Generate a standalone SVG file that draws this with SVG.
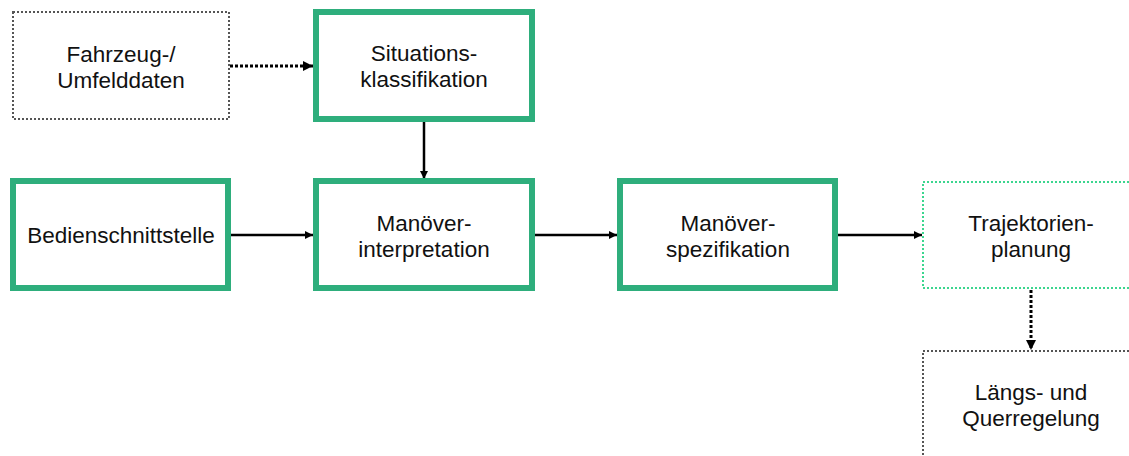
<svg xmlns="http://www.w3.org/2000/svg" width="1129" height="456" viewBox="0 0 1129 456">
  <style>
    .main { fill: #ffffff; stroke: #2eae7c; stroke-width: 6; }
    .ext { fill: #ffffff; stroke: #555555; stroke-width: 2; stroke-dasharray: 2 2; }
    .ext-green { fill: #ffffff; stroke: #3bd68f; stroke-width: 2; stroke-dasharray: 2 2; }
    .label { font-family: "Liberation Sans", Arial, sans-serif; font-size: 22.5px; fill: #111111; text-anchor: middle; }
    .flow { fill: none; stroke: #000000; stroke-width: 2.5; marker-end: url(#head); }
    .flow-dot { fill: none; stroke: #000000; stroke-width: 3; stroke-dasharray: 3 2; marker-end: url(#head); }
  </style>
  <defs>
    <marker id="head" viewBox="0 0 10 10" refX="10" refY="5" markerWidth="3.4" markerHeight="3.4" markerUnits="strokeWidth" orient="auto">
      <path d="M0,0 L10,5 L0,10 z" fill="#000000"/>
    </marker>
  </defs>

  <rect width="1129" height="456" fill="#ffffff"/>

  <g id="connectors">
    <line class="flow-dot" x1="230" y1="66" x2="313" y2="66"/>
    <line class="flow" x1="424" y1="122" x2="424" y2="179"/>
    <line class="flow" x1="231" y1="235" x2="313" y2="235"/>
    <line class="flow" x1="535" y1="235" x2="617" y2="235"/>
    <line class="flow" x1="838" y1="235" x2="922" y2="235"/>
    <line class="flow-dot" x1="1031" y1="290" x2="1031" y2="350"/>
  </g>

  <g id="fahrzeug-umfelddaten">
    <rect class="ext" x="13" y="12" width="216" height="107"/>
    <text class="label" x="121" y="61.5">Fahrzeug-/</text>
    <text class="label" x="121" y="87.5">Umfelddaten</text>
  </g>

  <g id="situationsklassifikation">
    <rect class="main" x="316" y="12" width="216" height="107"/>
    <text class="label" x="424" y="61">Situations-</text>
    <text class="label" x="424" y="87">klassifikation</text>
  </g>

  <g id="bedienschnittstelle">
    <rect class="main" x="13" y="181" width="215" height="107"/>
    <text class="label" x="121" y="243">Bedienschnittstelle</text>
  </g>

  <g id="manoever-interpretation">
    <rect class="main" x="316" y="181" width="216" height="107"/>
    <text class="label" x="424" y="231">Manöver-</text>
    <text class="label" x="424" y="257">interpretation</text>
  </g>

  <g id="manoever-spezifikation">
    <rect class="main" x="620" y="181" width="215" height="107"/>
    <text class="label" x="728" y="231">Manöver-</text>
    <text class="label" x="728" y="257">spezifikation</text>
  </g>

  <g id="trajektorienplanung">
    <rect class="ext-green" x="923" y="182" width="216" height="106"/>
    <text class="label" x="1031" y="231">Trajektorien-</text>
    <text class="label" x="1031" y="257">planung</text>
  </g>

  <g id="laengs-querregelung">
    <rect class="ext" x="923" y="351" width="216" height="108"/>
    <text class="label" x="1031" y="400">Längs- und</text>
    <text class="label" x="1031" y="426">Querregelung</text>
  </g>
</svg>
